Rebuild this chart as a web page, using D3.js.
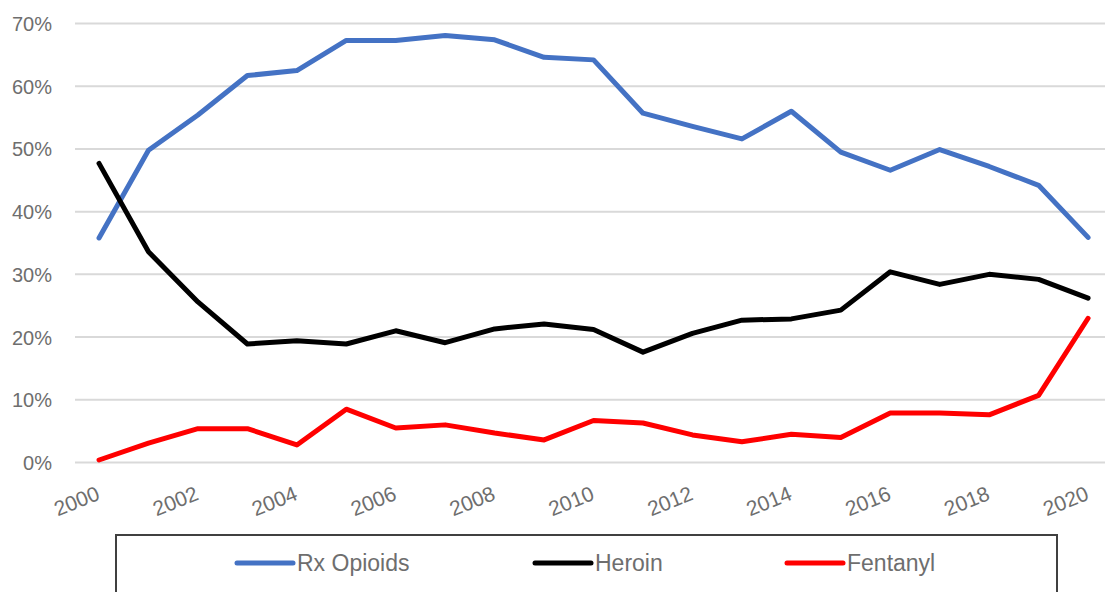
<!DOCTYPE html>
<html>
<head>
<meta charset="utf-8">
<script src="https://cdn.jsdelivr.net/npm/d3@7"></script>
<style>
  html, body { margin: 0; padding: 0; background: #fff; }
  svg { display: block; font-family: "Liberation Sans", Arial, sans-serif; }
</style>
</head>
<body>
<svg id="chart" width="1105" height="592"></svg>
<script>
// Share of opioid overdose deaths by drug type, 2000–2020
const years = d3.range(2000, 2021);
const rxOpioids = [0.358, 0.498, 0.554, 0.617, 0.625, 0.673, 0.673, 0.681, 0.674, 0.646, 0.642,
                   0.557, 0.536, 0.516, 0.560, 0.495, 0.466, 0.499, 0.472, 0.442, 0.359];
const heroin    = [0.477, 0.336, 0.256, 0.189, 0.194, 0.189, 0.210, 0.191, 0.213, 0.221, 0.212,
                   0.176, 0.206, 0.227, 0.229, 0.243, 0.304, 0.284, 0.300, 0.292, 0.262];
const fentanyl  = [0.004, 0.031, 0.054, 0.054, 0.028, 0.085, 0.055, 0.060, 0.047, 0.036, 0.067,
                   0.063, 0.044, 0.033, 0.045, 0.040, 0.079, 0.079, 0.076, 0.107, 0.230];
const yTicks = [0, 0.1, 0.2, 0.3, 0.4, 0.5, 0.6, 0.7];
const xTickYears = years.filter(y => y % 2 === 0);

const series = [
  { name: "Rx Opioids", values: rxOpioids, color: "#4472C4" },
  { name: "Heroin",     values: heroin,    color: "#000000" },
  { name: "Fentanyl",   values: fentanyl,  color: "#FF0000" }
];

const svg = d3.select("#chart");

const x = d3.scalePoint().domain(years).range([74.3, 1112.8]).padding(0.5);
const y = d3.scaleLinear().domain([0, 0.7]).range([462.5, 23.5]);

// horizontal gridlines
svg.append("g")
  .selectAll("line")
  .data(yTicks)
  .join("line")
  .attr("x1", 75).attr("x2", 1105)
  .attr("y1", d => y(d)).attr("y2", d => y(d))
  .attr("stroke", "#d9d9d9")
  .attr("stroke-width", 2);

// y axis labels
const yAxis = d3.axisLeft(y).tickValues(yTicks).tickFormat(d3.format(".0%")).tickSize(0).tickPadding(0);
svg.append("g")
  .attr("transform", "translate(52,0)")
  .call(yAxis)
  .call(g => g.select(".domain").remove())
  .call(g => g.selectAll("text")
    .attr("fill", "#6e6e6e")
    .attr("font-size", 20)
    .attr("font-family", "Liberation Sans, Arial, sans-serif")
    .attr("dy", "0.35em"));

// x axis labels, rotated
svg.append("g")
  .selectAll("text")
  .data(xTickYears)
  .join("text")
  .attr("transform", d => `translate(${x(d) + 2},499) rotate(-22)`)
  .attr("text-anchor", "end")
  .attr("fill", "#6e6e6e")
  .attr("font-size", 21)
  .text(d => d);

// series lines
const line = d3.line()
  .x((d, i) => x(years[i]))
  .y(d => y(d));

svg.append("g")
  .selectAll("path")
  .data(series)
  .join("path")
  .attr("d", d => line(d.values))
  .attr("fill", "none")
  .attr("stroke", d => d.color)
  .attr("stroke-width", 5)
  .attr("stroke-linejoin", "round")
  .attr("stroke-linecap", "round");

// legend
const legend = svg.append("g");
legend.append("rect")
  .attr("x", 116).attr("y", 535)
  .attr("width", 941).attr("height", 80)
  .attr("fill", "#fff")
  .attr("stroke", "#404040")
  .attr("stroke-width", 2);

const legendX = [237, 535, 787];
const items = legend.selectAll("g.item")
  .data(series)
  .join("g")
  .attr("class", "item")
  .attr("transform", (d, i) => `translate(${legendX[i]},563)`);
items.append("line")
  .attr("x1", 0).attr("x2", 56)
  .attr("y1", 0).attr("y2", 0)
  .attr("stroke", d => d.color)
  .attr("stroke-width", 5)
  .attr("stroke-linecap", "round");
items.append("text")
  .attr("x", 60)
  .attr("dy", "0.35em")
  .attr("fill", "#6e6e6e")
  .attr("font-size", 23)
  .text(d => d.name);
</script>
</body>
</html>
